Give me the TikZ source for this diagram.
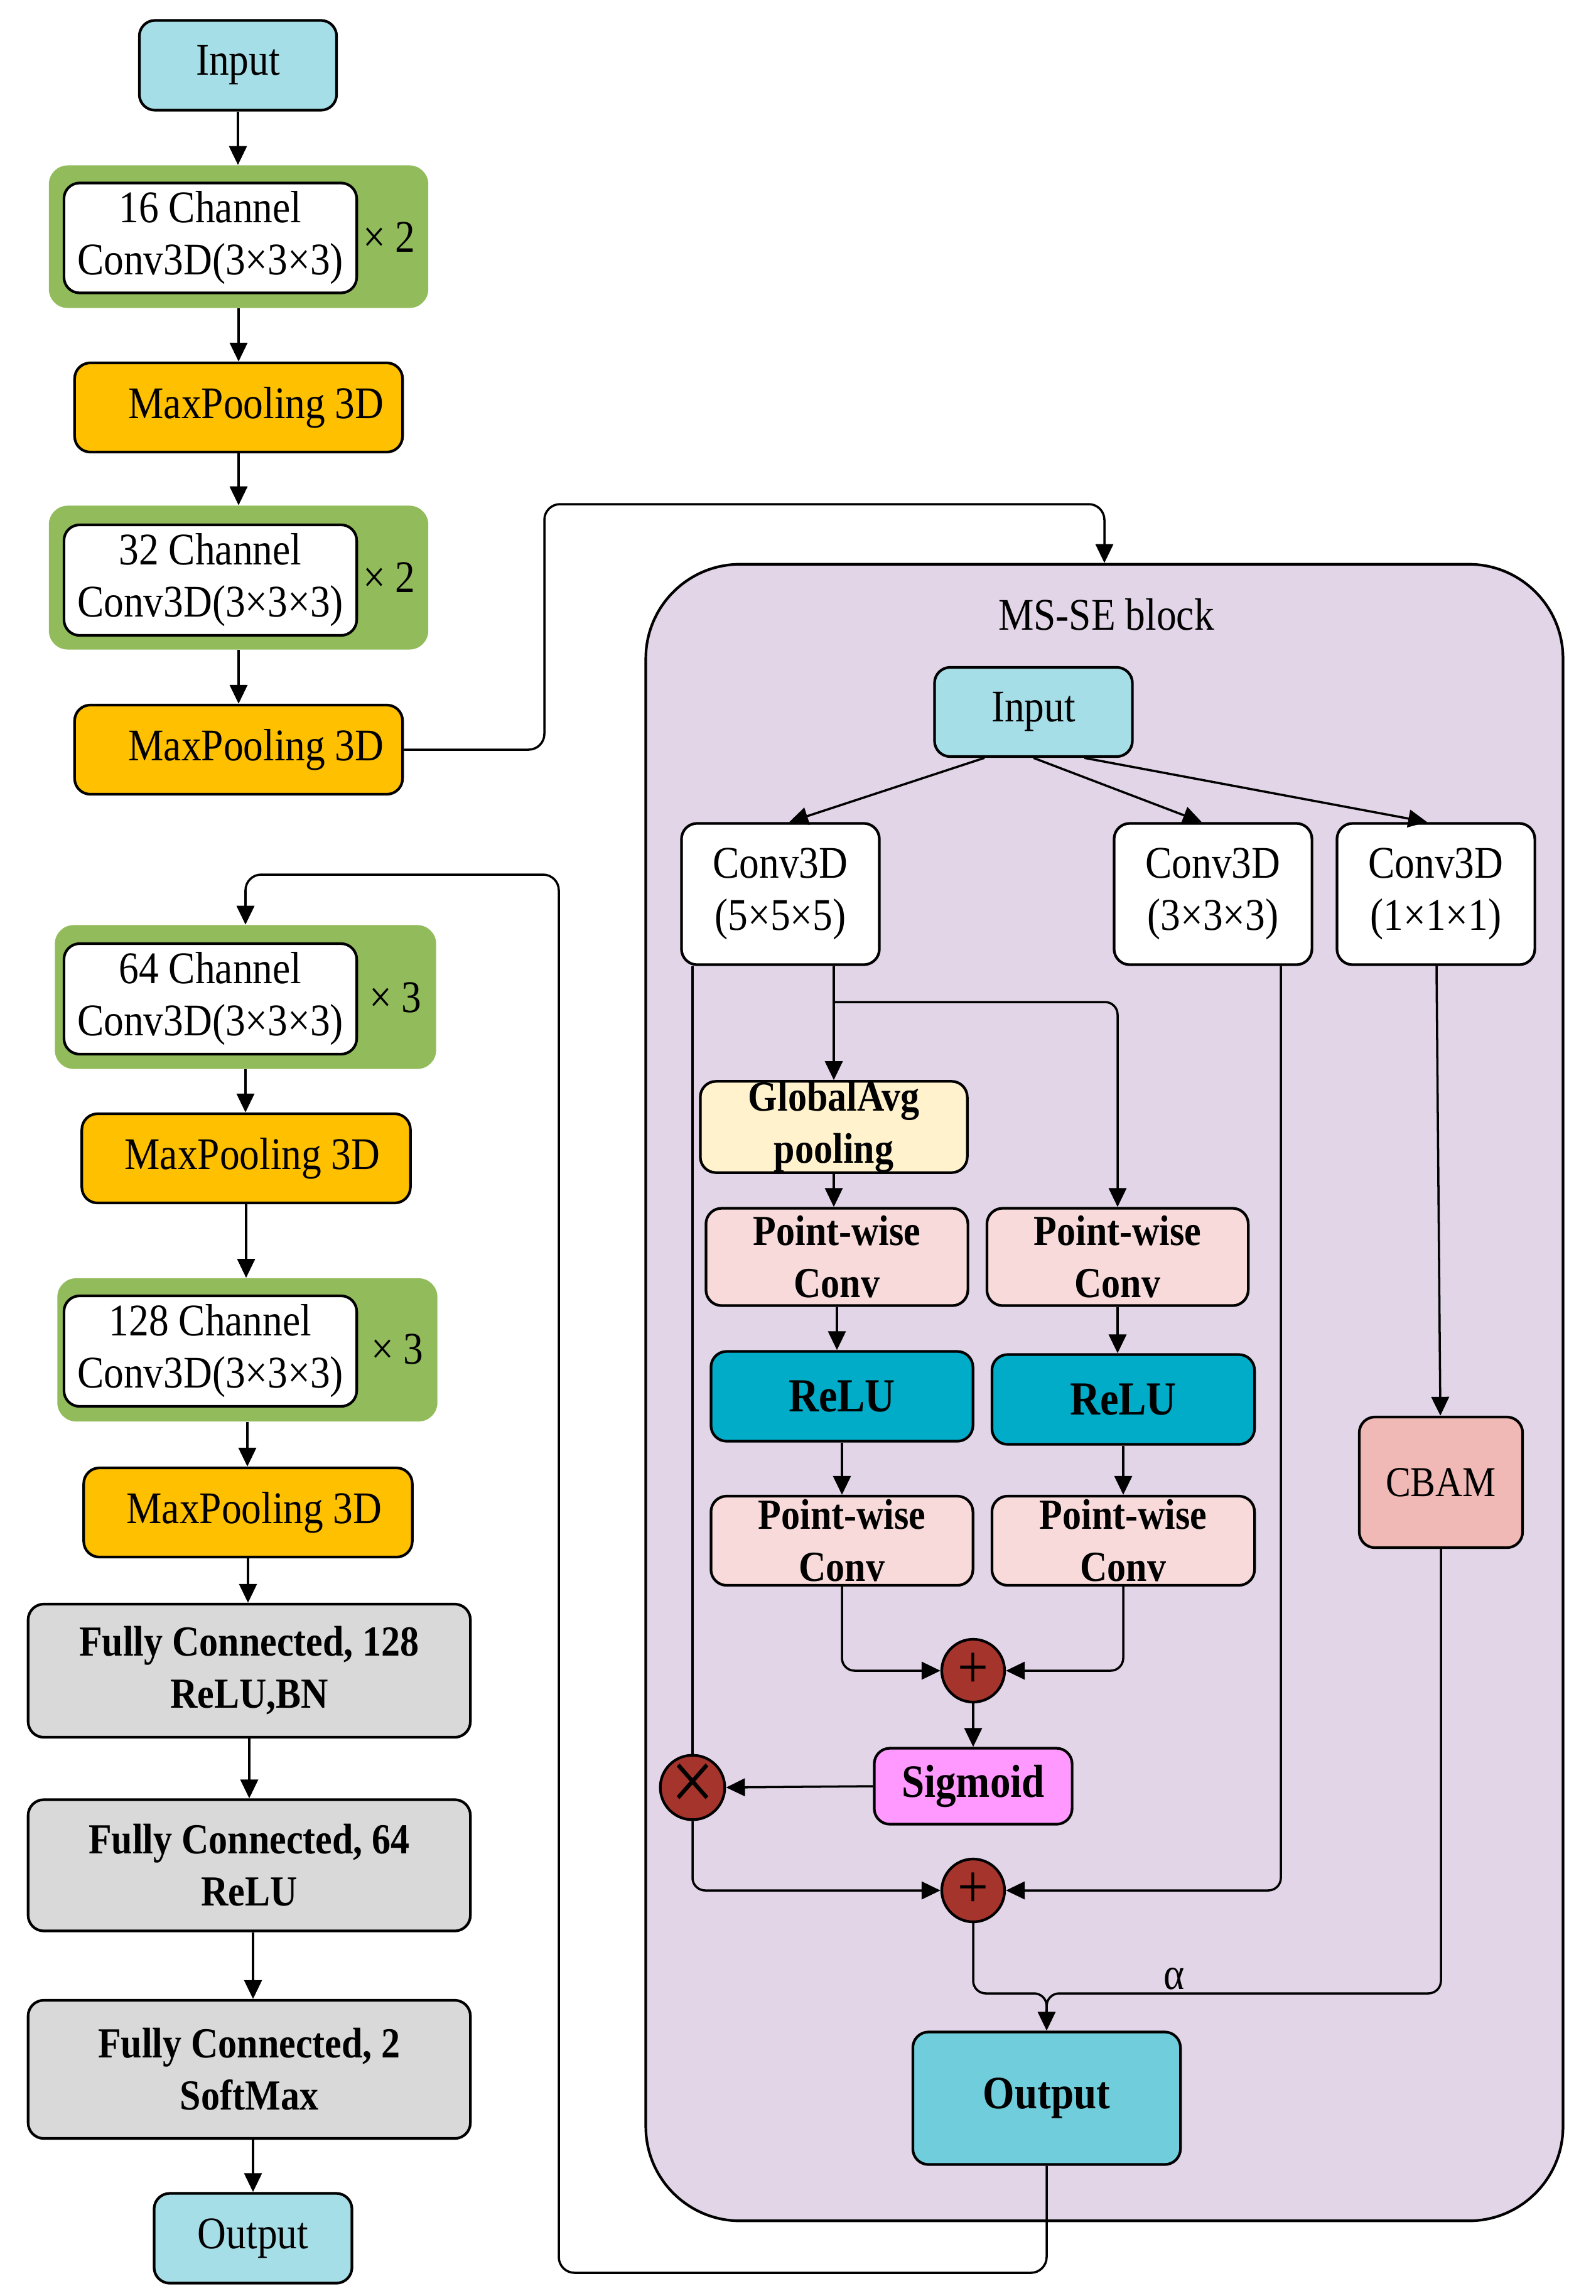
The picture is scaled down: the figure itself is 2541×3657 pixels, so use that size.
\documentclass[tikz,border=0pt]{standalone}
\usepackage{fontspec}
\setmainfont{Liberation Serif}[FakeStretch=0.88]
\usetikzlibrary{arrows.meta}

\definecolor{inblue}{RGB}{166,222,232}
\definecolor{convgreen}{RGB}{146,188,92}
\definecolor{poolgold}{RGB}{255,192,0}
\definecolor{fcgray}{RGB}{217,217,217}
\definecolor{msbg}{RGB}{225,213,231}
\definecolor{gapyellow}{RGB}{255,242,204}
\definecolor{pwpink}{RGB}{247,218,217}
\definecolor{relucyan}{RGB}{0,172,200}
\definecolor{sigpink}{RGB}{255,153,255}
\definecolor{opred}{RGB}{165,52,45}
\definecolor{cbamred}{RGB}{241,185,181}
\definecolor{outcyan}{RGB}{111,205,220}

\tikzset{
	blk/.style={draw, line width=1.2pt, rounded corners=0.25cm, align=center, inner sep=0pt},
	grn/.style={fill=convgreen, rounded corners=0.3cm, inner sep=0pt},
	arr/.style={line width=1pt, -{Triangle[length=0.3cm,width=0.28cm]}},
	ln/.style={line width=1pt},
	op/.style={circle, draw, line width=1.2pt, fill=opred, minimum size=1cm, inner sep=0pt, font=\fontsize{28}{28}\selectfont},
	bf/.style={font=\fontsize{19.4}{23.6}\selectfont\bfseries},
}

\begin{document}
\begin{tikzpicture}[x=0.01cm, y=-0.01cm, font=\fontsize{20.5}{23.6}\selectfont]
	\useasboundingbox (0,0) rectangle (2541,3657);

	% backbone
	\node[blk, fill=inblue, minimum width=3.14cm, minimum height=1.43cm] (inp) at (379,104) {Input};
	\node[grn, minimum width=6.04cm, minimum height=2.27cm] (g16) at (380,377) {};
	\node[blk, fill=white, minimum width=4.66cm, minimum height=1.75cm] (c16) at (335,379) {16 Channel\\Conv3D(3×3×3)};
	\node (r16) at (620,378) {× 2};
	\node[blk, fill=poolgold, minimum width=5.22cm, minimum height=1.42cm] (mp1) at (380,649) {\hspace*{0.56cm}MaxPooling 3D};
	\node[grn, minimum width=6.04cm, minimum height=2.29cm] (g32) at (380,920) {};
	\node[blk, fill=white, minimum width=4.66cm, minimum height=1.76cm] (c32) at (335,924) {32 Channel\\Conv3D(3×3×3)};
	\node (r32) at (620,920) {× 2};
	\node[blk, fill=poolgold, minimum width=5.22cm, minimum height=1.42cm] (mp2) at (380,1194) {\hspace*{0.56cm}MaxPooling 3D};

	\node[grn, minimum width=6.07cm, minimum height=2.29cm] (g64) at (391,1588) {};
	\node[blk, fill=white, minimum width=4.66cm, minimum height=1.76cm] (c64) at (335,1591) {64 Channel\\Conv3D(3×3×3)};
	\node (r64) at (630,1589) {× 3};
	\node[blk, fill=poolgold, minimum width=5.23cm, minimum height=1.42cm] (mp3) at (392,1845) {\hspace*{0.2cm}MaxPooling 3D};
	\node[grn, minimum width=6.05cm, minimum height=2.28cm] (g128) at (394,2150) {};
	\node[blk, fill=white, minimum width=4.66cm, minimum height=1.76cm] (c128) at (335,2152) {128 Channel\\Conv3D(3×3×3)};
	\node (r128) at (633,2149) {× 3};
	\node[blk, fill=poolgold, minimum width=5.23cm, minimum height=1.42cm] (mp4) at (395,2409) {\hspace*{0.2cm}MaxPooling 3D};
	\node[blk, bf, fill=fcgray, minimum width=7.04cm, minimum height=2.12cm] (fc1) at (397,2661) {Fully Connected, 128\\ReLU,BN};
	\node[blk, bf, fill=fcgray, minimum width=7.04cm, minimum height=2.09cm] (fc2) at (397,2971) {Fully Connected, 64\\ReLU};
	\node[blk, bf, fill=fcgray, minimum width=7.04cm, minimum height=2.2cm] (fc3) at (397,3296) {Fully Connected, 2\\SoftMax};
	\node[blk, fill=inblue, minimum width=3.15cm, minimum height=1.43cm] (out) at (403,3565) {Output};

	\draw[arr] (inp) -- (inp |- g16.north);
	\draw[arr] (g16) -- (g16 |- mp1.north);
	\draw[arr] (mp1) -- (mp1 |- g32.north);
	\draw[arr] (g32) -- (g32 |- mp2.north);
	\draw[arr] (g64) -- (g64 |- mp3.north);
	\draw[arr] (mp3) -- (mp3 |- g128.north);
	\draw[arr] (g128) -- (g128 |- mp4.north);
	\draw[arr] (mp4) -- (mp4 |- fc1.north);
	\draw[arr] (fc1) -- (fc1 |- fc2.north);
	\draw[arr] (fc2.south -| out) -- (fc3.north -| out);
	\draw[arr] (fc3.south -| out) -- (out.north);

	% MS-SE block
	\node[draw, line width=1.2pt, fill=msbg, rounded corners=1.5cm, minimum width=14.6cm, minimum height=26.37cm] (msse) at (1759,2218) {};
	\node (title) at (1762,979) {MS-SE block};
	\node[blk, fill=inblue, minimum width=3.15cm, minimum height=1.42cm] (sin) at (1646,1134) {Input};
	\node[blk, fill=white, minimum width=3.15cm, minimum height=2.25cm] (cv5) at (1243,1424) {Conv3D\\(5×5×5)};
	\node[blk, fill=white, minimum width=3.15cm, minimum height=2.25cm] (cv3) at (1932,1424) {Conv3D\\(3×3×3)};
	\node[blk, fill=white, minimum width=3.15cm, minimum height=2.25cm] (cv1) at (2287,1424) {Conv3D\\(1×1×1)};
	\node[blk, bf, fill=gapyellow, minimum width=4.25cm, minimum height=1.43cm] (gap) at (1328,1795) {GlobalAvg\\pooling};
	\node[blk, bf, fill=pwpink, minimum width=4.17cm, minimum height=1.55cm] (pw1) at (1333,2002) {Point-wise\\Conv};
	\node[blk, bf, fill=pwpink, minimum width=4.16cm, minimum height=1.55cm] (pw2) at (1780,2002) {Point-wise\\Conv};
	\node[blk, bf, fill=relucyan, minimum width=4.17cm, minimum height=1.43cm, font=\fontsize{21.5}{24}\selectfont\bfseries] (rl1) at (1341,2224) {ReLU};
	\node[blk, bf, fill=relucyan, minimum width=4.18cm, minimum height=1.43cm, font=\fontsize{21.5}{24}\selectfont\bfseries] (rl2) at (1789,2229) {ReLU};
	\node[blk, bf, fill=pwpink, minimum width=4.17cm, minimum height=1.42cm] (pw3) at (1341,2454) {Point-wise\\Conv};
	\node[blk, bf, fill=pwpink, minimum width=4.18cm, minimum height=1.42cm] (pw4) at (1789,2454) {Point-wise\\Conv};
	\node[op] (add1) at (1550,2661) {+};
	\node[blk, bf, fill=sigpink, minimum width=3.15cm, minimum height=1.21cm, font=\fontsize{21}{24}\selectfont\bfseries] (sig) at (1550,2845) {Sigmoid};
	\node[op, font=\fontsize{40}{40}\selectfont] (mul) at (1103,2847) {×};
	\node[op] (add2) at (1550,3011) {+};
	\node[blk, fill=cbamred, minimum width=2.6cm, minimum height=2.08cm, font=\fontsize{19.3}{23}\selectfont] (cbam) at (2295,2361) {CBAM};
	\node[blk, fill=outcyan, minimum width=4.26cm, minimum height=2.11cm, font=\fontsize{21}{24}\selectfont\bfseries] (mout) at (1667,3342) {Output};
	\node (alpha) at (1870,3152) {α};

	\coordinate (split) at (1328,1596);
	\coordinate (mrg) at (1667,3175);
	\coordinate (mrgb) at (1667,3200);
	\coordinate (tp) at (867,803);
	\coordinate (lp1) at (890,3620);
	\coordinate (lp2) at (890,1393);

	\draw[arr] ([xshift=-0.78cm]sin.south) -- ([xshift=0.14cm]cv5.north);
	\draw[arr] (sin.south) -- ([xshift=-0.18cm]cv3.north);
	\draw[arr] ([xshift=0.81cm]sin.south) -- ([xshift=-0.14cm]cv1.north);
	\draw[arr] (cv5.south -| split) -- (gap.north);
	\draw[arr, rounded corners=0.2cm] (split) -| (pw2.north);
	\draw[arr] (gap) -- (gap |- pw1.north);
	\draw[arr] (pw1) -- (pw1 |- rl1.north);
	\draw[arr] (pw2) -- (pw2 |- rl2.north);
	\draw[arr] (rl1) -- (rl1 |- pw3.north);
	\draw[arr] (rl2) -- (rl2 |- pw4.north);
	\draw[arr, rounded corners=0.2cm] (pw3.south) |- (add1.west);
	\draw[arr, rounded corners=0.2cm] (pw4.south) |- (add1.east);
	\draw[arr] (add1) -- (sig);
	\draw[arr] (sig.west) -- (mul.east);
	\draw[ln] (cv5.south -| mul) -- (mul.north);
	\draw[arr, rounded corners=0.2cm] (mul.south) |- (add2.west);
	\draw[arr, rounded corners=0.2cm] ([xshift=1.08cm]cv3.south) |- (add2.east);
	\draw[arr] (cv1) -- (cbam);
	\draw[ln, rounded corners=0.2cm] (cbam.south) |- (mrg) -- (mrgb);
	\draw[ln, rounded corners=0.2cm] (add2.south) |- (mrg) -- (mrgb);
	\draw[arr] (mrgb) -- (mout.north);

	% links between the two parts
	\draw[arr, rounded corners=0.25cm] (mp2.east) -| (tp) -| (msse.north);
	\draw[arr, rounded corners=0.25cm] (mout.south) |- (lp1) -- (lp2) -| (g64.north);
\end{tikzpicture}
\end{document}
